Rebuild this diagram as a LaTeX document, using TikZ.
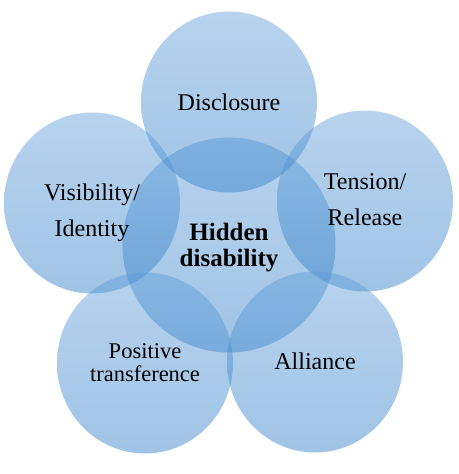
\documentclass[tikz,border=0pt]{standalone}
\usepackage{fontspec}
\setmainfont{Liberation Serif}
\usepackage{xcolor}
\usepackage{tikz}
\usetikzlibrary{shapes.geometric}
\definecolor{bubtop}{RGB}{95,157,217}
\definecolor{bubbot}{RGB}{44,124,199}

\begin{document}
\begin{tikzpicture}[x=1pt,y=-1pt,
    bubble/.style={ellipse,inner sep=0pt,minimum width=176pt,minimum height=181pt,
                   top color=bubtop,bottom color=bubbot,fill opacity=0.45,draw=none},
    hub/.style={bubble,minimum width=213pt,minimum height=215pt},
    lab/.style={align=center,font=\fontsize{24}{36}\selectfont,text=black}]
      \useasboundingbox (0,0) rectangle (458,474);
      % circles first, the words go on top
      \node[hub]    (hub)  at (229,245){};
      \node[bubble] (disc) at (229,102){};
      \node[bubble] (tens) at (365,201){};
      \node[bubble] (visi) at (92,203){};
      \node[bubble] (posi) at (145,363){};
      \node[bubble] (alli) at (315,362){};
      \node[lab,font=\bfseries\fontsize{25}{26}\selectfont] (hubtxt) at ([yshift=-3pt]hub){Hidden\\disability};
      \node[lab] (disctxt) at (disc){Disclosure};
      \node[lab] (tenstxt) at ([yshift=1pt]tens){Tension/\\Release};
      \node[lab] (visitxt) at ([yshift=-10pt]visi){Visibility/\\Identity};
      \node[lab,font=\fontsize{22.5}{23}\selectfont] (positxt) at (posi){Positive\\transference};
      \node[lab] (allitxt) at ([yshift=1pt]alli){Alliance};
    \end{tikzpicture}
\end{document}
